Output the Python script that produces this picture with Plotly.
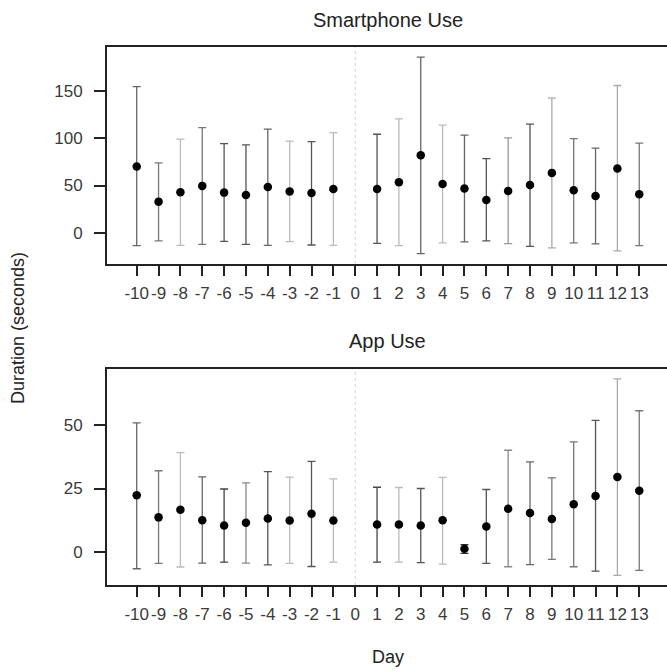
import plotly.graph_objects as go

days = list(range(-10, 0)) + list(range(1, 14))
tick_days = list(range(-10, 14))

# Smartphone use (seconds)
phone_mean = [70, 33, 43, 49.6, 42.5, 40, 48.5, 43.6, 42.2, 46.4,
              46.4, 53.4, 82, 51.7, 46.8, 34.8, 44.3, 50.6, 63.3, 45, 39, 67.8, 40.8]
phone_upper = [154.3, 73.8, 98.8, 111, 94.2, 92.8, 109.4, 96.7, 96.3, 105.8,
               104, 120.2, 185.3, 113.6, 103, 78.4, 100.2, 114.6, 142, 99.5, 89.3, 155.4, 94.6]
phone_lower = [-13.4, -8.4, -13, -12, -8.8, -12, -13, -9.1, -12.7, -13,
               -10.9, -13.4, -21.8, -10.5, -9.5, -8.4, -11.2, -14.1, -15.8, -10.5, -11.6, -19, -13.4]

# App use (seconds)
app_mean = [22.3, 13.6, 16.6, 12.5, 10.4, 11.5, 13.2, 12.4, 15, 12.4,
            10.8, 10.8, 10.4, 12.5, 1.2, 10, 17, 15.3, 13, 18.8, 22, 29.5, 24.1]
app_upper = [50.9, 32, 39.2, 29.6, 24.8, 27.2, 31.7, 29.5, 35.7, 28.8,
             25.5, 25.4, 25, 29.4, 2.8, 24.6, 40.1, 35.5, 29.2, 43.4, 51.9, 68.3, 55.7]
app_lower = [-6.7, -4.6, -6, -4.5, -4.1, -4.5, -5.2, -4.6, -5.8, -4.1,
             -4.1, -4.1, -4.3, -4.9, -0.6, -4.6, -5.9, -5.1, -3, -5.9, -7.6, -9.3, -7.3]

# error bar shades (style)
phone_colors = ["#666", "#777", "#bbb", "#777", "#555", "#555", "#666", "#bbb", "#555", "#bbb",
                "#555", "#bbb", "#666", "#bbb", "#666", "#555", "#999", "#555", "#aaa", "#777", "#666", "#aaa", "#777"]
app_colors = ["#666", "#777", "#bbb", "#666", "#444", "#888", "#555", "#bbb", "#555", "#bbb",
              "#444", "#bbb", "#555", "#bbb", "#333", "#555", "#888", "#666", "#777", "#777", "#555", "#aaa", "#777"]

fig = go.Figure()

panels = [
    (phone_mean, phone_upper, phone_lower, phone_colors, "x", "y"),
    (app_mean, app_upper, app_lower, app_colors, "x2", "y2"),
]
for mean, up, lo, cols, xa, ya in panels:
    for d, m, u, l, c in zip(days, mean, up, lo, cols):
        fig.add_trace(go.Scatter(
            x=[d], y=[m], mode="markers", xaxis=xa, yaxis=ya,
            marker=dict(size=8, color="rgba(0,0,0,0)"),
            error_y=dict(type="data", symmetric=False, array=[u - m], arrayminus=[m - l],
                         color=c, thickness=1.3, width=4),
            showlegend=False, hoverinfo="skip"))
    fig.add_trace(go.Scatter(
        x=days, y=mean, mode="markers", xaxis=xa, yaxis=ya,
        marker=dict(size=8.5, color="black"), showlegend=False))

font_ticks = dict(family="Liberation Sans, Arial, sans-serif", size=17, color="#3a3a3a")
xcommon = dict(range=[-11.36, 14.27], tickmode="array", tickvals=tick_days,
               ticktext=[str(t) for t in tick_days], ticks="outside", ticklen=10,
               tickwidth=1.5, tickcolor="#222", showline=True, linecolor="#222",
               linewidth=1.8, mirror=True, showgrid=False, zeroline=False,
               tickfont=font_ticks, ticklabelstandoff=3, tickangle=0)
ycommon = dict(ticks="outside", ticklen=11, tickwidth=1.5, tickcolor="#222",
               showline=True, linecolor="#222", linewidth=1.8, showgrid=False,
               zeroline=False, tickfont=font_ticks, ticklabelstandoff=8)

fig.update_layout(
    width=667, height=671,
    margin=dict(l=107, r=0, t=0, b=0),
    plot_bgcolor="white", paper_bgcolor="white",
    xaxis=dict(domain=[0, 1], anchor="y", **xcommon),
    yaxis=dict(domain=[0.6066, 0.9300], anchor="x", range=[-32.7, 196],
               tickvals=[0, 50, 100, 150], **ycommon),
    xaxis2=dict(domain=[0, 1], anchor="y2", **xcommon),
    yaxis2=dict(domain=[0.1282, 0.4501], anchor="x2", range=[-13.1, 72.2],
                tickvals=[0, 25, 50], **ycommon),
)

for xr, yr in [("x", "y domain"), ("x2", "y2 domain")]:
    fig.add_shape(type="line", xref=xr, yref=yr, x0=0, x1=0, y0=0, y1=1,
                  line=dict(color="#d0d0d0", width=1, dash="dot"), layer="below")

title_font = dict(family="Liberation Sans, Arial, sans-serif", size=20, color="#222")
label_font = dict(family="Liberation Sans Narrow, Liberation Sans, Arial, sans-serif", size=18, color="#222")
fig.add_annotation(text="Smartphone Use", xref="paper", yref="paper", x=0.5009, y=0.9702,
                   showarrow=False, font=title_font, xanchor="center", yanchor="middle")
fig.add_annotation(text="App Use", xref="paper", yref="paper", x=0.5009, y=0.4918,
                   showarrow=False, font=title_font, xanchor="center", yanchor="middle")
fig.add_annotation(text="Day", xref="paper", yref="paper", x=0.5009, y=0.0209,
                   showarrow=False, font=label_font, xanchor="center", yanchor="middle")
fig.add_annotation(text="Duration (seconds)", xref="paper", yref="paper", x=-0.159, y=0.511,
                   showarrow=False, font=label_font, textangle=-90,
                   xanchor="center", yanchor="middle")

fig.write_html("out.html")
